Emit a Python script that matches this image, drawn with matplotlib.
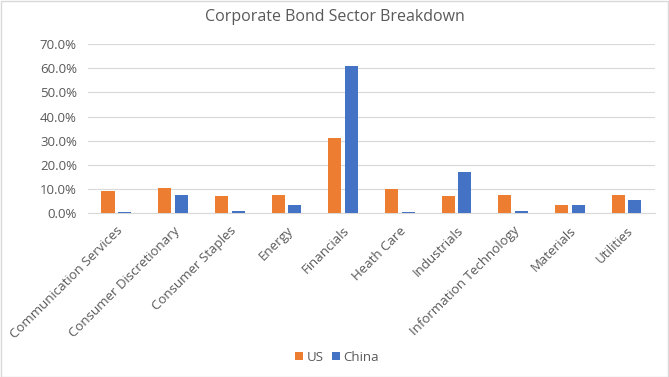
import numpy as np
import matplotlib.pyplot as plt
from matplotlib.ticker import FuncFormatter
from matplotlib.patches import Rectangle

sectors = ['Communication Services', 'Consumer Discretionary', 'Consumer Staples',
           'Energy', 'Financials', 'Heath Care', 'Industrials',
           'Information Technology', 'Materials', 'Utilities']
us = [9.1, 10.4, 7.0, 7.5, 31.1, 9.9, 7.0, 7.5, 3.3, 7.5]
china = [0.4, 7.5, 0.8, 3.3, 61.0, 0.4, 17.0, 0.8, 3.3, 5.4]

plt.rcParams['font.family'] = ['Open Sans', 'DejaVu Sans']
txt = '#595959'

fig = plt.figure(figsize=(6.69, 3.77), dpi=100)
ax = fig.add_axes([0.1315, 0.435, 0.8475, 0.4475])

x = np.arange(len(sectors))
w = 0.23
ax.bar(x - 0.147, us, w, color='#ED7D31', label='US', zorder=3)
ax.bar(x + 0.147, china, w, color='#4472C4', label='China', zorder=3)

ax.set_xlim(-0.5, len(sectors) - 0.5)
ax.set_ylim(0, 70)
ax.set_yticks(np.arange(0, 71, 10))
ax.yaxis.set_major_formatter(FuncFormatter(lambda v, p: f'{v:.1f}%'))
ax.grid(axis='y', color='#D9D9D9', linewidth=0.8, zorder=0)
for s in ['top', 'right', 'left']:
    ax.spines[s].set_visible(False)
ax.spines['bottom'].set_color('#D9D9D9')
ax.tick_params(axis='both', length=0, colors=txt, labelsize=9.5)
ax.tick_params(axis='y', pad=8)
ax.tick_params(axis='x', pad=8)
ax.set_xticks(x)
ax.set_xticklabels(sectors, rotation=45, ha='right', rotation_mode='anchor')

fig.suptitle('Corporate Bond Sector Breakdown', color=txt, fontsize=11.5, x=0.5, y=0.975)
fig.legend(*ax.get_legend_handles_labels(), loc='center', bbox_to_anchor=(0.504, 0.053),
           ncol=2, frameon=False, fontsize=9.5, labelcolor=txt, handlelength=0.6,
           handleheight=0.6, handletextpad=0.3, columnspacing=0.6)

fig.patches.append(Rectangle((0.001, 0.001), 0.997, 0.997, transform=fig.transFigure,
                             fill=False, edgecolor='#D9D9D9', linewidth=1))
fig.savefig('out.png', dpi=100)
